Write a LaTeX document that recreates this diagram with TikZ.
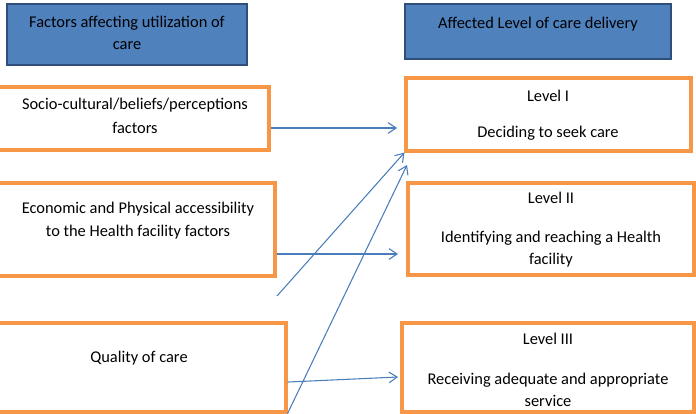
\documentclass[tikz,border=0pt]{standalone}
\usepackage{fontspec}
\setmainfont{Carlito}
\usepackage{xcolor}
\usetikzlibrary{arrows.meta}
\definecolor{HeadBlue}{HTML}{4F81BD}
\definecolor{HeadEdge}{HTML}{2F4F7A}
\definecolor{BoxOrange}{HTML}{F79646}
\definecolor{FlowBlue}{HTML}{4A7EBB}

\begin{document}
\begin{tikzpicture}[x=0.75pt,y=-0.75pt,
  headbox/.style={draw=HeadEdge,line width=1.8pt,fill=HeadBlue,inner sep=0pt},
  levelbox/.style={draw=BoxOrange,line width=2.3pt,inner sep=0pt},
  boxtext/.style={align=center,font=\fontsize{12.3}{16.5}\selectfont,inner sep=0pt},
  flow/.style={draw=FlowBlue,line width=0.8pt,-{Straight Barb[length=6pt,width=8pt]}}]
\path[use as bounding box] (0,0) rectangle (696,414);
\node[headbox,minimum width=180pt,minimum height=45.75pt] (headleft) at (127,34.5) {};
\node[boxtext] (headlefttxt) at (127,33) {Factors affecting utilization of\\care};
\node[headbox,minimum width=199.5pt,minimum height=41.25pt] (headright) at (538,31.5) {};
\node[boxtext] (headrighttxt) at (538,24) {Affected Level of care delivery};
\node[levelbox,minimum width=203.25pt,minimum height=47.25pt] (socio) at (133.5,118.5) {};
\node[boxtext] (sociotxt) at (135,116) {Socio-cultural/beliefs/perceptions\\[1.5pt]factors};
\node[levelbox,minimum width=207.75pt,minimum height=69.75pt] (access) at (136.5,229.5) {};
\node[boxtext] (accesstxt) at (138,220.5) {Economic and Physical accessibility\\[0.8pt]to the Health facility factors};
\node[levelbox,minimum width=216pt,minimum height=66.75pt] (quality) at (142,367.5) {};
\node[boxtext] (qualitytxt) at (139,358) {Quality of care};
\node[levelbox,minimum width=213.75pt,minimum height=54.75pt] (levelone) at (548.5,114.5) {};
\node[boxtext] (levelonetxt) at (548,115) {Level I\\[10.5pt]Deciding to seek care};
\node[levelbox,minimum width=214.5pt,minimum height=69pt] (leveltwo) at (551,229) {};
\node[boxtext] (leveltwotxt) at (551,229.5) {Level II\\[12.75pt]Identifying and reaching a Health\\facility};
\node[levelbox,minimum width=219pt,minimum height=66.75pt] (levelthree) at (548,367.5) {};
\node[boxtext] (levelthreetxt) at (548,369.5) {Level III\\[13.5pt]Receiving adequate and appropriate\\service};
\coordinate (tipone) at (397,128);
\coordinate (tiptwo) at (398,254);
\coordinate (loosestart) at (277,296);
\coordinate (tipfour) at (407,165);
\coordinate (tipfive) at (398,377);
\draw[flow] (socio.east |- tipone) -- (tipone);
\draw[flow] (access.east |- tiptwo) -- (tiptwo);
\draw[flow] (loosestart) -- (levelone.south west);
\draw[flow] (quality.south east) -- (tipfour);
\draw[flow] ([yshift=-10.9pt]quality.east) -- (tipfive);
\end{tikzpicture}
\end{document}
